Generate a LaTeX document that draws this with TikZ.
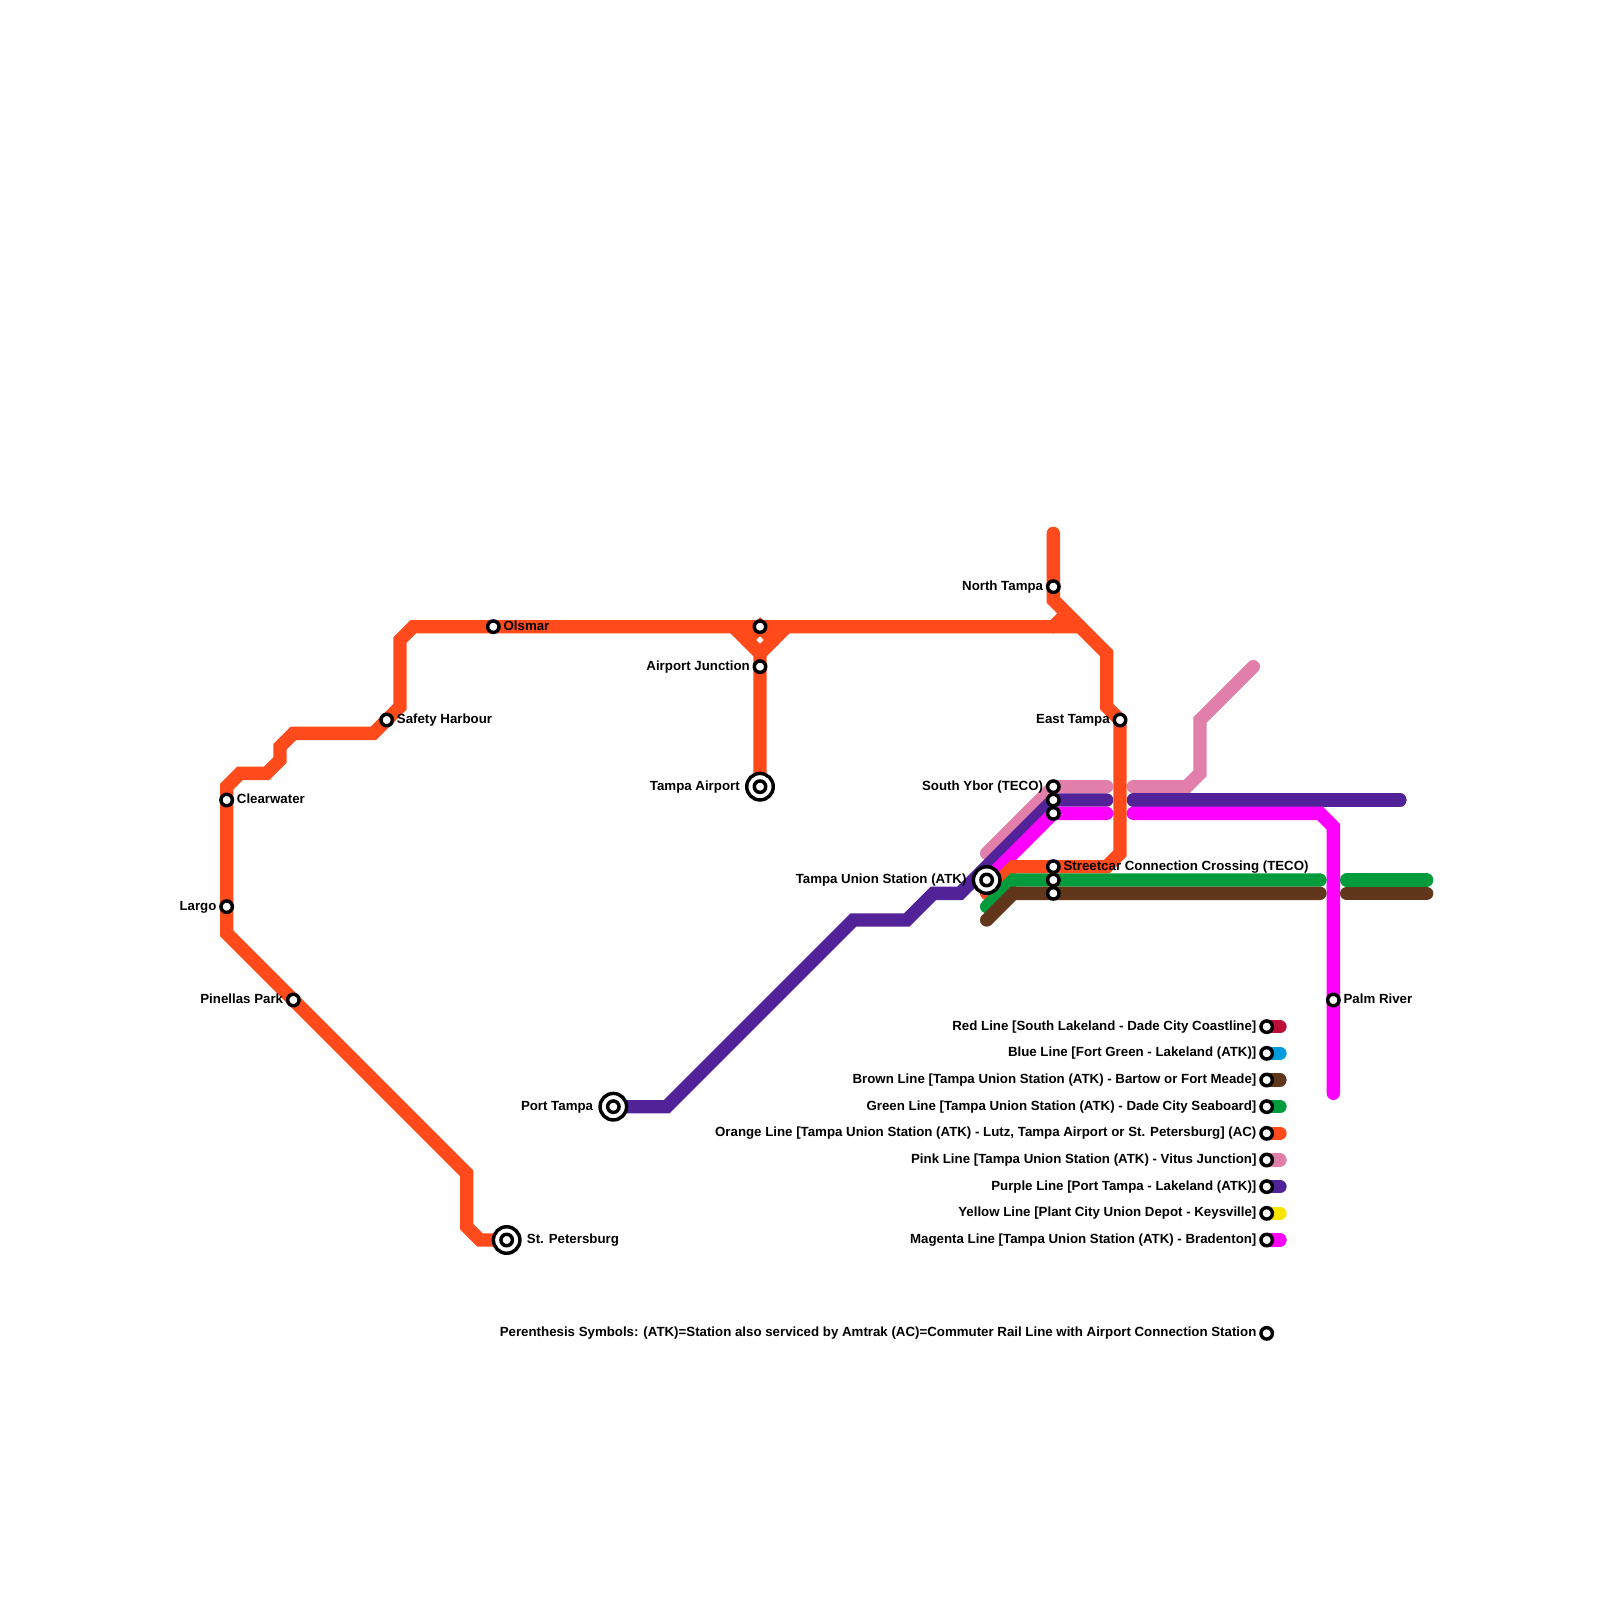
\documentclass[tikz,border=0pt]{standalone}
\usepackage{fontspec}
\setmainfont{Liberation Sans}[BoldFont={Liberation Sans Bold}]
\definecolor{cRed}{HTML}{BD1038}
\definecolor{cBlue}{HTML}{009CDE}
\definecolor{cBrown}{HTML}{62361B}
\definecolor{cGreen}{HTML}{009B3A}
\definecolor{cOrange}{HTML}{FF4A1C}
\definecolor{cPink}{HTML}{E17FAA}
\definecolor{cPurple}{HTML}{522398}
\definecolor{cYellow}{HTML}{F9E300}
\definecolor{cMagenta}{HTML}{FF00FF}
\tikzset{
  rail/.style={line width=10pt,line cap=round,line join=miter,miter limit=4},
  stn/.style={circle,draw=black,fill=white,line width=2.6pt,minimum size=8.6pt,inner sep=0pt,outer sep=0pt},
  xstn/.style={circle,draw=black,fill=white,line width=2.6pt,minimum size=19.9pt,inner sep=0pt,outer sep=0pt},
  lblr/.style={font=\bfseries\fontsize{9.96pt}{11pt}\selectfont,inner sep=0pt,anchor=mid west,text=black},
  lbll/.style={font=\bfseries\fontsize{9.96pt}{11pt}\selectfont,inner sep=0pt,anchor=mid east,text=black},
}
\begin{document}
\begin{tikzpicture}[x=10pt,y=-10pt]
\useasboundingbox (0,0) rectangle (120,120);
% anchors of the lines
\foreach \n/\x/\y in {
 a1/36/93,a2/35/92,a3/35/88,a4/17/70,a5/17/59,a6/18/58,a7/20/58,a8/21/57,a9/21/56,a10/22/55,a11/28/55,a12/30/53,a13/30/48,a14/31/47,
 h1/81/47,h2/79/47,h3/80/46,
 l1/79/40,l2/79/45,l3/83/49,l4/83/53,l5/84/64,l6/83/65,l7/76/65,l8/74/67,
 j1/55/47,j2/57/49,j3/59/47,j4/56/48,j5/57/47,j6/58/48,
 p1/94/50,p2/90/54,p3/90/58,p4/89/59,p5/85/59,p6/83/59,p7/74/64,
 u1/105/60,u2/85/60,u3/83/60,u4/72/67,u5/70/67,u6/68/69,u7/64/69,u8/50/83,
 m1/100/82,m2/100/62,m3/99/61,m4/85/61,m5/83/61,
 g1/107/66,g2/101/66,g3/99/66,g4/76/66,g5/74/68,
 b1/107/67,b2/101/67,b3/99/67,b4/76/67,b5/74/69}
 {\coordinate (\n) at (\x,\y);}
\coordinate (stpC) at (38,93);
\coordinate (ptC) at (46,83);
\coordinate (apC) at (57,59);
\coordinate (unC) at (74,66);
\coordinate (safC) at (29,54);
\coordinate (ajC) at (57,50);
\coordinate (etC) at (84,54);
\coordinate (y1C) at (79,59);
\coordinate (y2C) at (79,60);
\coordinate (y3C) at (79,61);
\coordinate (s1C) at (79,65);
\coordinate (s2C) at (79,66);
\coordinate (s3C) at (79,67);
\foreach \i/\y in {1/77,2/79,3/81,4/83,5/85,6/87,7/89,8/91,9/93}
 {\coordinate (k\i C) at (95,\y); \coordinate (e\i) at (96,\y);}
\coordinate (k0C) at (95,100);
% lines
\draw[rail,cPink] (p1) -- (p2) -- (p3) -- (p4) -- (p5);
\draw[rail,cPink] (p6) -- (y1C) -- (p7);
\draw[rail,cPurple] (u1) -- (u2);
\draw[rail,cPurple] (u3) -- (y2C) -- (u4) -- (u5) -- (u6) -- (u7) -- (u8) -- (ptC);
\draw[rail,cMagenta] (m1) -- (m2) -- (m3) -- (m4);
\draw[rail,cMagenta] (m5) -- (y3C) -- (unC);
\draw[rail,cOrange] (stpC) -- (a1) -- (a2) -- (a3) -- (a4) -- (a5) -- (a6) -- (a7) -- (a8) -- (a9) -- (a10) -- (a11) -- (a12) -- (a13) -- (a14) -- (h1);
\draw[rail,cOrange] (h2) -- (h3);
\draw[rail,cOrange] (l1) -- (l2) -- (l3) -- (l4) -- (etC) -- (l5) -- (l6) -- (l7) -- (l8);
\draw[rail,cOrange] (apC) -- (j2) -- (j1);
\draw[rail,cOrange] (j2) -- (j3);
\draw[rail,cOrange] (j4) -- (j5) -- (j6);
\draw[rail,cGreen] (g1) -- (g2);
\draw[rail,cGreen] (g3) -- (g4) -- (g5);
\draw[rail,cBrown] (b1) -- (b2);
\draw[rail,cBrown] (b3) -- (b4) -- (b5);
% legend swatches
\foreach \i/\c in {1/cRed,2/cBlue,3/cBrown,4/cGreen,5/cOrange,6/cPink,7/cPurple,8/cYellow,9/cMagenta}
 {\draw[rail,\c] (k\i C) -- (e\i);}
% stations
\node[stn] (north) at (79,44) {};
\node[stn] (olsmar) at (37,47) {};
\node[stn] (topj) at (57,47) {};
\node[stn] (airj) at (ajC) {};
\node[stn] (safety) at (safC) {};
\node[stn] (clear) at (17,60) {};
\node[stn] (largo) at (17,68) {};
\node[stn] (pinel) at (22,75) {};
\node[stn] (east) at (etC) {};
\node[stn] (palm) at (100,75) {};
\node[stn] (yb1) at (y1C) {};
\node[stn] (yb2) at (y2C) {};
\node[stn] (yb3) at (y3C) {};
\node[stn] (sc1) at (s1C) {};
\node[stn] (sc2) at (s2C) {};
\node[stn] (sc3) at (s3C) {};
\node[xstn] (stpO) at (stpC) {}; \node[stn] (stp) at (stpC) {};
\node[xstn] (ptO) at (ptC) {}; \node[stn] (pt) at (ptC) {};
\node[xstn] (apO) at (apC) {}; \node[stn] (ap) at (apC) {};
\node[xstn] (unO) at (unC) {}; \node[stn] (un) at (unC) {};
% labels
\node[lbll] (tNorth) at (78.25,44) {North Tampa};
\node[lblr] (tOls) at (37.75,47) {Olsmar};
\node[lbll] (tAir) at (56.25,50) {Airport Junction};
\node[lblr] (tSaf) at (29.75,54) {Safety Harbour};
\node[lblr] (tCle) at (17.75,60) {Clearwater};
\node[lbll] (tLar) at (16.25,68) {Largo};
\node[lbll] (tPin) at (21.25,75) {Pinellas Park};
\node[lbll] (tEast) at (83.25,54) {East Tampa};
\node[lblr] (tPalm) at (100.75,75) {Palm River};
\node[lbll] (tYb) at (78.25,59) {South Ybor (TECO)};
\node[lblr] (tSc) at (79.75,65) {Streetcar Connection Crossing (TECO)};
\node[lblr] (tStp) at (39.5,93) {St. Petersburg};
\node[lbll] (tPt) at (44.5,83) {Port Tampa};
\node[lbll] (tAp) at (55.5,59) {Tampa Airport};
\node[lbll] (tUn) at (72.5,66) {Tampa Union Station (ATK)};
% legend
\foreach \i/\t in {1/{Red Line [South Lakeland - Dade City Coastline]},
 2/{Blue Line [Fort Green - Lakeland (ATK)]},
 3/{Brown Line [Tampa Union Station (ATK) - Bartow or Fort Meade]},
 4/{Green Line [Tampa Union Station (ATK) - Dade City Seaboard]},
 5/{Orange Line [Tampa Union Station (ATK) - Lutz, Tampa Airport or St. Petersburg] (AC)},
 6/{Pink Line [Tampa Union Station (ATK) - Vitus Junction]},
 7/{Purple Line [Port Tampa - Lakeland (ATK)]},
 8/{Yellow Line [Plant City Union Depot - Keysville]},
 9/{Magenta Line [Tampa Union Station (ATK) - Bradenton]},
 0/{Perenthesis Symbols: (ATK)=Station also serviced by Amtrak (AC)=Commuter Rail Line with Airport Connection Station}}
 {\node[stn] (key\i) at (k\i C) {};
  \node[lbll] (keyT\i) at ([xshift=-7.5pt]k\i C) {\t};}
\end{tikzpicture}
\end{document}
